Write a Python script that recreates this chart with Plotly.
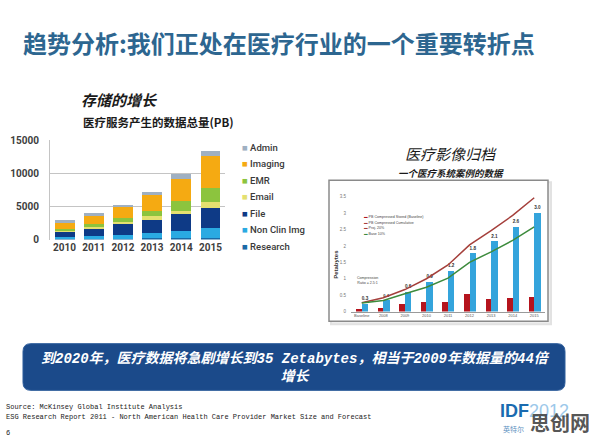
import plotly.graph_objects as go

W, H = 596, 446


def px(x):
    return x / W


def py(y):
    return 1 - y / H


# ---------------- Left chart data: 医疗服务产生的数据总量(PB) ----------------
years = ["2010", "2011", "2012", "2013", "2014", "2015"]
series_names = ["Research", "Non Clin Img", "File", "Email", "EMR", "Imaging", "Admin"]
research = [100, 120, 150, 180, 220, 260]
non_clin_img = [250, 380, 600, 820, 1130, 1440]
file_data = [850, 1200, 1550, 2000, 2550, 3100]
email = [150, 250, 350, 500, 450, 800]
emr = [200, 350, 600, 850, 1450, 2200]
imaging = [1000, 1300, 1700, 2450, 3400, 4900]
admin = [350, 350, 250, 450, 700, 700]
series_values = [research, non_clin_img, file_data, email, emr, imaging, admin]
series_colors = ["#1a6aa6", "#2aaae2", "#0e3a86", "#e4e070", "#8cc43e", "#f5aa12", "#9fb0c2"]
left_ticks = [0, 5000, 10000, 15000]

# ---------------- Right chart data: 医疗影像归档 ----------------
archive_cats = ["Baseline", "2008", "2009", "2010", "2011", "2012", "2013", "2014", "2015"]
stored_pb = [0.07, 0.12, 0.24, 0.30, 0.30, 0.55, 0.37, 0.40, 0.45]
cumulative_pb = [0.24, 0.34, 0.60, 0.90, 1.23, 1.77, 2.14, 2.57, 3.00]
cumulative_labels = ["0.3", "0.4", "0.6", "0.9", "1.2", "1.8", "2.1", "2.6", "3.0"]
proj_line = [0.27, 0.42, 0.67, 1.00, 1.42, 2.03, 2.47, 2.93, 3.47]
base_line = [0.26, 0.34, 0.54, 0.74, 1.02, 1.50, 1.82, 2.17, 2.58]
right_ticks = [0, 0.5, 1, 1.5, 2, 2.5, 3, 3.5]
right_tick_text = ["0", "0.5", "1", "1.5", "2", "2.5", "3", "3.5"]
right_legend = ["PB Compressed Stored (Baseline)", "PB Compressed Cumulative",
                "Proj. 20%", "Base 10%"]
right_legend_colors = ["#b01820", "#a8403c", "#a5403c", "#3d8b3d"]

fig = go.Figure()

# Left stacked bars
for name, vals, col in zip(series_names, series_values, series_colors):
    fig.add_trace(go.Bar(
        x=years, y=vals, name=name, marker=dict(color=col, line=dict(width=0)),
        width=0.68, xaxis="x", yaxis="y", showlegend=False,
    ))

# Right chart bars (numeric positions around each category)
idx = list(range(len(archive_cats)))
fig.add_trace(go.Bar(
    x=[i - 0.13 for i in idx], y=stored_pb, width=0.26,
    marker=dict(color="#b5141d", line=dict(width=0)),
    xaxis="x2", yaxis="y2", showlegend=False, name=right_legend[0],
))
fig.add_trace(go.Bar(
    x=[i + 0.15 for i in idx], y=cumulative_pb, width=0.30,
    marker=dict(color="#34a4dc", line=dict(width=0)),
    text=cumulative_labels, textposition="outside", cliponaxis=False,
    textfont=dict(size=5.5, color="#333333", family="Liberation Sans", weight="bold"),
    xaxis="x2", yaxis="y2", showlegend=False, name=right_legend[1],
))
fig.add_trace(go.Scatter(
    x=idx, y=proj_line, mode="lines", line=dict(color="#a5403c", width=1.5),
    xaxis="x2", yaxis="y2", showlegend=False, name=right_legend[2],
))
fig.add_trace(go.Scatter(
    x=idx, y=base_line, mode="lines", line=dict(color="#3d8b3d", width=1.5),
    xaxis="x2", yaxis="y2", showlegend=False, name=right_legend[3],
))


def rounded_rect(x0, y0, x1, y1, r):
    pts = [
        ("M", [(x0 + r, y0)]), ("L", [(x1 - r, y0)]), ("Q", [(x1, y0), (x1, y0 + r)]),
        ("L", [(x1, y1 - r)]), ("Q", [(x1, y1), (x1 - r, y1)]),
        ("L", [(x0 + r, y1)]), ("Q", [(x0, y1), (x0, y1 - r)]),
        ("L", [(x0, y0 + r)]), ("Q", [(x0, y0), (x0 + r, y0)]),
    ]
    s = ""
    for cmd, ps in pts:
        s += cmd + " " + " ".join(f"{px(a):.5f},{py(b):.5f}" for a, b in ps) + " "
    return s + "Z"


shapes = [
    # right chart frame shadow + frame
    dict(type="rect", xref="paper", yref="paper", x0=px(331), x1=px(551), y0=py(327), y1=py(181),
         line=dict(color="#e2e2e2", width=2), fillcolor="#eeeeee", layer="below"),
    dict(type="rect", xref="paper", yref="paper", x0=px(329), x1=px(548), y0=py(324), y1=py(179),
         line=dict(color="#8a8a8a", width=1.5), fillcolor="white", layer="below"),
    # blue banner
    dict(type="path", xref="paper", yref="paper", path=rounded_rect(23, 347, 565, 395, 8),
         fillcolor="#1b4a8a", line=dict(color="#2f5e9c", width=1), layer="above"),
]

annotations = []


def ann(text, x, y, size, color="#222222", family="Noto Sans CJK SC", xanchor="center",
        yanchor="middle", weight="normal", style="normal", textangle=0):
    annotations.append(dict(
        text=text, x=px(x), y=py(y), xref="paper", yref="paper", showarrow=False,
        xanchor=xanchor, yanchor=yanchor, textangle=textangle,
        font=dict(size=size, color=color, family=family, weight=weight, style=style),
    ))


# Title
ann("趋势分析:我们正处在医疗行业的一个重要转折点", 21, 38, 24, color="#2d6690",
    xanchor="left", weight="bold")

# Left chart headings
ann("存储的增长", 120, 96, 15, color="#1a1a1a", weight="bold", style="italic")
ann("医疗服务产生的数据总量(PB)", 158, 119, 11.5, color="#1a1a1a", weight="bold")

# Left chart legend (top-down order as in the picture)
legend_top = 145
legend_step = 17
for k, (name, col) in enumerate(zip(series_names[::-1], series_colors[::-1])):
    ann(f"<span style='color:{col}'>■</span> {name}", 240, legend_top + k * legend_step, 9.5,
        color="#3a3a3a", family="Roboto", xanchor="left", weight=500)

# Right chart headings
ann("医疗影像归档", 451, 152, 15, color="#1a1a1a", style="italic")
ann("一个医疗系统案例的数据", 451, 171.5, 9.5, color="#1a1a1a", weight="bold", style="italic")

# Right chart inner legend
for k, (name, col) in enumerate(zip(right_legend, right_legend_colors)):
    ann(f"<span style='color:{col}'>▬</span> {name}", 362, 217 + k * 5.6, 3.6,
        color="#444444", family="Liberation Sans", xanchor="left")
ann("Compression<br>Ratio = 2.5:1", 355, 282, 3.6, color="#444444", family="Liberation Sans",
    xanchor="left")
ann("Petabytes", 336, 266, 6, color="#333333", family="Liberation Sans", weight="bold",
    textangle=-90)

# Banner text
ann("<i>到2020年，医疗数据将急剧增长到35 Zetabytes，相当于2009年数据量的44倍<br>增长</i>", 295, 372, 14,
    color="white", family="Liberation Mono, Noto Sans CJK SC", weight="bold", style="italic")

# Source lines
ann("Source: McKinsey Global Institute Analysis", 4, 412, 7, color="#222222",
    family="Liberation Mono", xanchor="left")
ann("ESG Research Report 2011 - North American Health Care Provider Market Size and Forecast",
    4, 422, 7, color="#222222", family="Liberation Mono", xanchor="left")
ann("6", 4, 439, 7, color="#222222", family="Liberation Mono", xanchor="left")

# Logo + watermark
ann("<b>IDF</b><span style='color:#9cc8ea'>2012</span>", 498, 416, 18, color="#1a6bb0",
    family="Liberation Sans", xanchor="left")
ann("英特尔", 501, 435, 7, color="#5a8fc0", xanchor="left")
ann("思创网", 560, 428, 20, color="rgba(70,70,70,0.92)", weight="bold")

fig.update_layout(
    width=W, height=H, margin=dict(l=0, r=0, t=0, b=0),
    paper_bgcolor="white", plot_bgcolor="rgba(0,0,0,0)",
    barmode="stack", bargap=0.3,
    showlegend=False,
    shapes=shapes, annotations=annotations,
    xaxis=dict(domain=[px(50), px(225)], anchor="y", type="category", range=[-0.5, 5.5],
               showgrid=False, showline=False, ticks="", fixedrange=True,
               tickfont=dict(size=10, color="#404040", family="Roboto", weight="bold")),
    yaxis=dict(domain=[py(240), py(138)], anchor="x", range=[0, 15000], tickvals=left_ticks,
               tickformat="d",
               showgrid=True, gridcolor="#c4c4c4", gridwidth=1, zeroline=False,
               showline=True, linecolor="#c4c4c4", ticks="", ticklabelstandoff=8,
               tickfont=dict(size=10, color="#404040", family="Roboto", weight="bold")),
    xaxis2=dict(domain=[px(351), px(545)], anchor="y2", range=[-0.5, 8.5], tickvals=idx,
                ticktext=archive_cats, showgrid=False, zeroline=False, showline=True,
                linecolor="#9a9a9a", ticks="",
                tickfont=dict(size=4, color="#555555", family="Liberation Sans")),
    yaxis2=dict(domain=[py(314), py(196)], anchor="x2", range=[0, 3.5], tickvals=right_ticks,
                ticktext=right_tick_text, showgrid=False, zeroline=False, showline=False,
                ticks="", ticklabelstandoff=4,
                tickfont=dict(size=4.5, color="#777777", family="Liberation Sans")),
)

fig.write_html("out.html")
